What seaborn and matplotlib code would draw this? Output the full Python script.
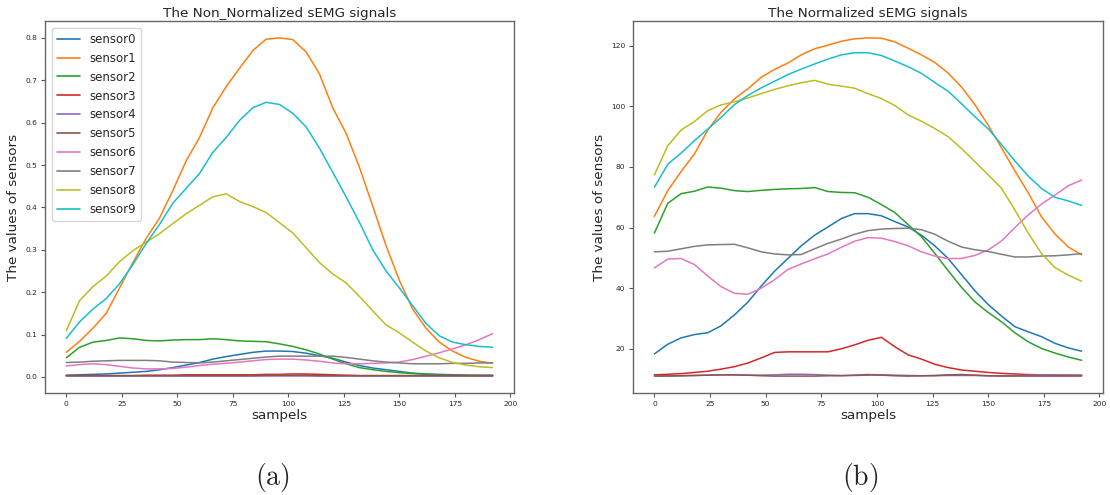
import numpy as np
import pandas as pd
import matplotlib
matplotlib.use("Agg")
import matplotlib.pyplot as plt
import seaborn as sns

# sample index of every reading
samples = list(range(0, 193, 6))
sensor_names = [f"sensor{i}" for i in range(10)]

# ---- raw (non-normalized) sEMG amplitudes ----
raw_sensor0 = [0.004, 0.005, 0.006, 0.007, 0.009, 0.011, 0.013, 0.017, 0.022, 0.028, 0.034,
               0.042, 0.048, 0.053, 0.058, 0.061, 0.061, 0.060, 0.056, 0.050, 0.044, 0.035,
               0.027, 0.021, 0.017, 0.013, 0.009, 0.007, 0.006, 0.005, 0.004, 0.004, 0.004]
raw_sensor1 = [0.058, 0.084, 0.115, 0.150, 0.210, 0.270, 0.327, 0.375, 0.440, 0.510, 0.565,
               0.635, 0.685, 0.728, 0.770, 0.797, 0.800, 0.796, 0.767, 0.715, 0.635, 0.575,
               0.495, 0.403, 0.310, 0.228, 0.160, 0.115, 0.082, 0.061, 0.046, 0.037, 0.032]
raw_sensor2 = [0.045, 0.070, 0.082, 0.086, 0.092, 0.090, 0.086, 0.085, 0.087, 0.088, 0.088,
               0.090, 0.088, 0.085, 0.084, 0.083, 0.078, 0.072, 0.064, 0.054, 0.042, 0.031,
               0.022, 0.017, 0.013, 0.010, 0.008, 0.006, 0.005, 0.004, 0.004, 0.003, 0.003]
raw_sensor3 = [0.003, 0.003, 0.003, 0.003, 0.003, 0.003, 0.004, 0.004, 0.004, 0.005, 0.005,
               0.005, 0.005, 0.005, 0.005, 0.006, 0.006, 0.007, 0.007, 0.006, 0.005, 0.004,
               0.003, 0.003, 0.003, 0.003, 0.003, 0.003, 0.003, 0.003, 0.003, 0.003, 0.003]
raw_sensor4 = [0.002, 0.002, 0.002, 0.002, 0.002, 0.002, 0.002, 0.002, 0.002, 0.002, 0.002,
               0.002, 0.002, 0.002, 0.002, 0.002, 0.002, 0.002, 0.002, 0.002, 0.002, 0.002,
               0.002, 0.002, 0.002, 0.002, 0.002, 0.002, 0.002, 0.002, 0.002, 0.002, 0.002]
raw_sensor5 = [0.003, 0.003, 0.003, 0.003, 0.003, 0.003, 0.003, 0.003, 0.003, 0.003, 0.003,
               0.003, 0.003, 0.003, 0.003, 0.004, 0.004, 0.004, 0.004, 0.003, 0.003, 0.003,
               0.003, 0.003, 0.003, 0.003, 0.003, 0.003, 0.003, 0.003, 0.003, 0.003, 0.003]
raw_sensor6 = [0.026, 0.029, 0.031, 0.029, 0.025, 0.021, 0.019, 0.019, 0.020, 0.023, 0.027,
               0.030, 0.032, 0.035, 0.038, 0.041, 0.042, 0.042, 0.040, 0.037, 0.033, 0.031,
               0.031, 0.032, 0.033, 0.035, 0.041, 0.049, 0.057, 0.066, 0.076, 0.088, 0.102]
raw_sensor7 = [0.034, 0.035, 0.037, 0.038, 0.039, 0.039, 0.039, 0.038, 0.035, 0.034, 0.033,
               0.035, 0.038, 0.041, 0.044, 0.047, 0.049, 0.049, 0.049, 0.049, 0.049, 0.046,
               0.042, 0.038, 0.035, 0.033, 0.031, 0.031, 0.031, 0.032, 0.032, 0.033, 0.033]
raw_sensor8 = [0.109, 0.180, 0.213, 0.238, 0.272, 0.298, 0.318, 0.338, 0.362, 0.385, 0.405,
               0.425, 0.432, 0.414, 0.402, 0.388, 0.364, 0.340, 0.305, 0.270, 0.243, 0.222,
               0.190, 0.156, 0.123, 0.104, 0.082, 0.061, 0.045, 0.034, 0.028, 0.024, 0.022]
raw_sensor9 = [0.091, 0.130, 0.160, 0.185, 0.220, 0.265, 0.315, 0.360, 0.410, 0.445, 0.480,
               0.530, 0.565, 0.605, 0.635, 0.648, 0.643, 0.622, 0.590, 0.540, 0.483, 0.425,
               0.365, 0.300, 0.250, 0.210, 0.168, 0.126, 0.097, 0.082, 0.076, 0.072, 0.070]

# ---- normalized sEMG amplitudes ----
norm_sensor0 = [18.3, 21.5, 23.6, 24.7, 25.3, 27.6, 31.2, 35.4, 40.7, 45.6, 49.8,
                54.0, 57.5, 60.2, 63.0, 64.6, 64.6, 63.9, 62.0, 60.2, 57.5, 54.0,
                49.8, 44.5, 39.2, 34.6, 30.8, 27.3, 25.6, 24.0, 21.8, 20.3, 19.2]
norm_sensor1 = [63.7, 72.2, 78.5, 84.3, 92.2, 98.1, 102.5, 105.8, 109.6, 112.2, 114.3,
                117.0, 119.0, 120.2, 121.5, 122.3, 122.6, 122.5, 121.3, 119.2, 117.0, 114.5,
                111.0, 106.4, 100.6, 93.8, 86.3, 78.7, 71.5, 63.5, 57.9, 53.6, 51.0]
norm_sensor2 = [58.2, 68.0, 71.2, 72.0, 73.4, 73.0, 72.2, 71.9, 72.3, 72.6, 72.8,
                72.9, 73.2, 71.9, 71.6, 71.5, 70.0, 67.6, 65.0, 61.0, 57.0, 51.5,
                45.8, 40.3, 35.5, 32.0, 28.9, 25.3, 22.3, 20.1, 18.6, 17.3, 16.2]
norm_sensor3 = [11.4, 11.6, 11.8, 12.2, 12.6, 13.3, 14.1, 15.3, 17.0, 18.8, 19.0,
                19.0, 19.0, 19.0, 20.0, 21.3, 22.8, 23.8, 20.7, 18.0, 16.6, 14.9,
                13.8, 13.0, 12.6, 12.2, 11.9, 11.7, 11.5, 11.4, 11.3, 11.3, 11.3]
norm_sensor4 = [11.1, 11.1, 11.1, 11.2, 11.3, 11.4, 11.4, 11.3, 11.3, 11.4, 11.6,
                11.6, 11.5, 11.3, 11.2, 11.2, 11.3, 11.4, 11.3, 11.2, 11.1, 11.1,
                11.2, 11.2, 11.2, 11.1, 11.1, 11.2, 11.3, 11.4, 11.4, 11.3, 11.2]
norm_sensor5 = [11.0, 11.0, 11.1, 11.2, 11.3, 11.4, 11.4, 11.3, 11.1, 11.0, 11.0,
                11.0, 11.0, 11.1, 11.1, 11.3, 11.5, 11.3, 11.1, 11.0, 11.1, 11.2,
                11.4, 11.5, 11.3, 11.1, 11.0, 11.0, 11.0, 11.0, 11.0, 11.0, 11.0]
norm_sensor6 = [46.7, 49.6, 49.8, 47.8, 44.0, 40.5, 38.3, 38.0, 40.0, 42.8, 46.2,
                48.0, 49.7, 51.3, 53.5, 55.5, 56.7, 56.5, 55.4, 54.0, 52.0, 50.6,
                49.8, 49.8, 50.8, 52.6, 55.6, 60.0, 64.2, 67.8, 70.7, 73.8, 75.7]
norm_sensor7 = [52.0, 52.2, 53.0, 53.8, 54.3, 54.4, 54.5, 53.3, 52.0, 51.3, 51.0,
                51.1, 53.0, 54.8, 56.2, 57.8, 59.0, 59.5, 59.7, 59.8, 59.3, 57.8,
                55.5, 53.6, 52.7, 52.1, 51.2, 50.3, 50.3, 50.6, 50.7, 51.0, 51.4]
norm_sensor8 = [77.4, 87.0, 92.2, 95.0, 98.6, 100.5, 101.5, 102.8, 104.2, 105.6, 106.8,
                107.8, 108.6, 107.3, 106.7, 106.0, 104.2, 102.6, 100.3, 97.2, 95.1, 92.7,
                90.0, 86.1, 81.8, 77.4, 73.0, 65.8, 58.2, 51.4, 46.8, 44.3, 42.3]
norm_sensor9 = [73.3, 80.9, 84.6, 88.7, 92.5, 96.4, 100.6, 103.6, 106.1, 108.3, 110.5,
                112.3, 114.0, 115.6, 117.0, 117.7, 117.7, 116.8, 115.0, 113.1, 110.9, 107.9,
                105.0, 100.9, 96.6, 92.6, 87.4, 82.0, 77.0, 72.9, 70.0, 68.8, 67.3]

raw_series = [raw_sensor0, raw_sensor1, raw_sensor2, raw_sensor3, raw_sensor4,
              raw_sensor5, raw_sensor6, raw_sensor7, raw_sensor8, raw_sensor9]
norm_series = [norm_sensor0, norm_sensor1, norm_sensor2, norm_sensor3, norm_sensor4,
               norm_sensor5, norm_sensor6, norm_sensor7, norm_sensor8, norm_sensor9]


def to_long(series_list):
    frames = [pd.DataFrame({"sample": samples, "value": vals, "sensor": name})
              for name, vals in zip(sensor_names, series_list)]
    return pd.concat(frames, ignore_index=True)


raw_df = to_long(raw_series)
norm_df = to_long(norm_series)

sns.set_style("white")
plt.rcParams["font.family"] = ["DejaVu Sans"]
plt.rcParams["mathtext.fontset"] = "cm"

fig = plt.figure(figsize=(11.1, 4.95), dpi=100)
ax_raw = fig.add_axes([0.0405, 0.2061, 0.4225, 0.7515])
ax_norm = fig.add_axes([0.5703, 0.2061, 0.4234, 0.7515])

palette = sns.color_palette("tab10", 10)

sns.lineplot(data=raw_df, x="sample", y="value", hue="sensor", hue_order=sensor_names,
             palette=palette, linewidth=1.1, ax=ax_raw)
sns.lineplot(data=norm_df, x="sample", y="value", hue="sensor", hue_order=sensor_names,
             palette=palette, linewidth=1.1, ax=ax_norm, legend=False)

titles = ["The Non_Normalized sEMG signals", "The Normalized sEMG signals"]
for ax, title in zip([ax_raw, ax_norm], titles):
    ax.set_title(title, fontsize=9.7, pad=3)
    ax.set_xlabel("sampels", fontsize=9.7, labelpad=2)
    ax.set_ylabel("The values of sensors", fontsize=9.7, labelpad=4)
    ax.set_xticks([0, 25, 50, 75, 100, 125, 150, 175, 200])
    ax.tick_params(axis="both", labelsize=5.4, length=3, width=0.8,
                   color="#555555", pad=2.5, bottom=True, left=True)
    for sp in ax.spines.values():
        sp.set_color("#666666")
        sp.set_linewidth(1.0)

ax_raw.set_yticks([0.0, 0.1, 0.2, 0.3, 0.4, 0.5, 0.6, 0.7, 0.8])
ax_norm.set_yticks([20, 40, 60, 80, 100, 120])

leg = ax_raw.legend(loc="upper left", fontsize=8.5, frameon=True,
                    borderaxespad=0.6, handlelength=2.0)
leg.get_frame().set_edgecolor("#cccccc")
for line in leg.get_lines():
    line.set_linewidth(1.2)

fig.text(0.245, 0.036, r"$\mathrm{(a)}$", fontsize=20, ha="center", va="center")
fig.text(0.775, 0.036, r"$\mathrm{(b)}$", fontsize=20, ha="center", va="center")

fig.savefig("out.png", dpi=100, facecolor="white")
